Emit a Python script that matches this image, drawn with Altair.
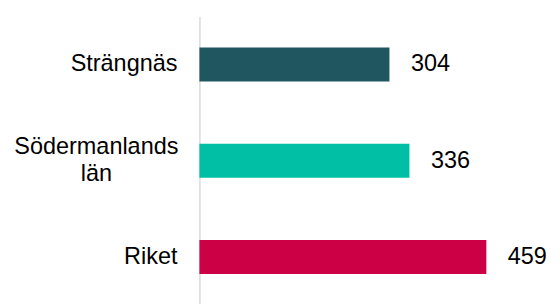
import altair as alt
import pandas as pd

categories = ["Strängnäs", "Södermanlands län", "Riket"]
values = [304, 336, 459]
colors = ["#1F565F", "#00BFA5", "#CC0044"]

df = pd.DataFrame({"cat": categories, "val": values, "col": colors})

FONT = "Liberation Sans"
FS = 24
TWO = "datum.value == 'Södermanlands län'"

y = alt.Y(
    "cat:N",
    sort=categories,
    scale=alt.Scale(paddingInner=0.645, paddingOuter=0.3225),
    axis=alt.Axis(
        title=None,
        ticks=False,
        grid=False,
        domain=True,
        domainColor="#D9D9D9",
        domainWidth=1.5,
        labelFont=FONT,
        labelFontSize=FS,
        labelColor="#000000",
        labelLineHeight=27,
        labelLimit=400,
        labelExpr="datum.label == 'Södermanlands län' ? ['Södermanlands', 'län'] : datum.label",
        labelAlign={"condition": {"test": TWO, "value": "center"}, "value": "right"},
        labelPadding={"condition": {"test": TWO, "value": 106}, "value": 23},
        labelOffset={"condition": {"test": TWO, "value": -13.5}, "value": 0},
    ),
)
x = alt.X("val:Q", scale=alt.Scale(domain=[0, 500]), axis=None)

bars = alt.Chart(df).mark_bar().encode(
    x=x, y=y, color=alt.Color("col:N", scale=None)
)
labels = alt.Chart(df).mark_text(
    align="left", baseline="middle", dx=22, font=FONT, fontSize=FS, color="#000000"
).encode(x=x, y=alt.Y("cat:N", sort=categories), text="val:Q")

chart = (
    alt.layer(bars, labels)
    .properties(width=320, height=295.5, padding={"left": 5, "top": 5, "right": 5, "bottom": 5})
    .configure_view(stroke=None)
)
chart.save("out.html", embed_options={"renderer": "svg", "actions": False})
